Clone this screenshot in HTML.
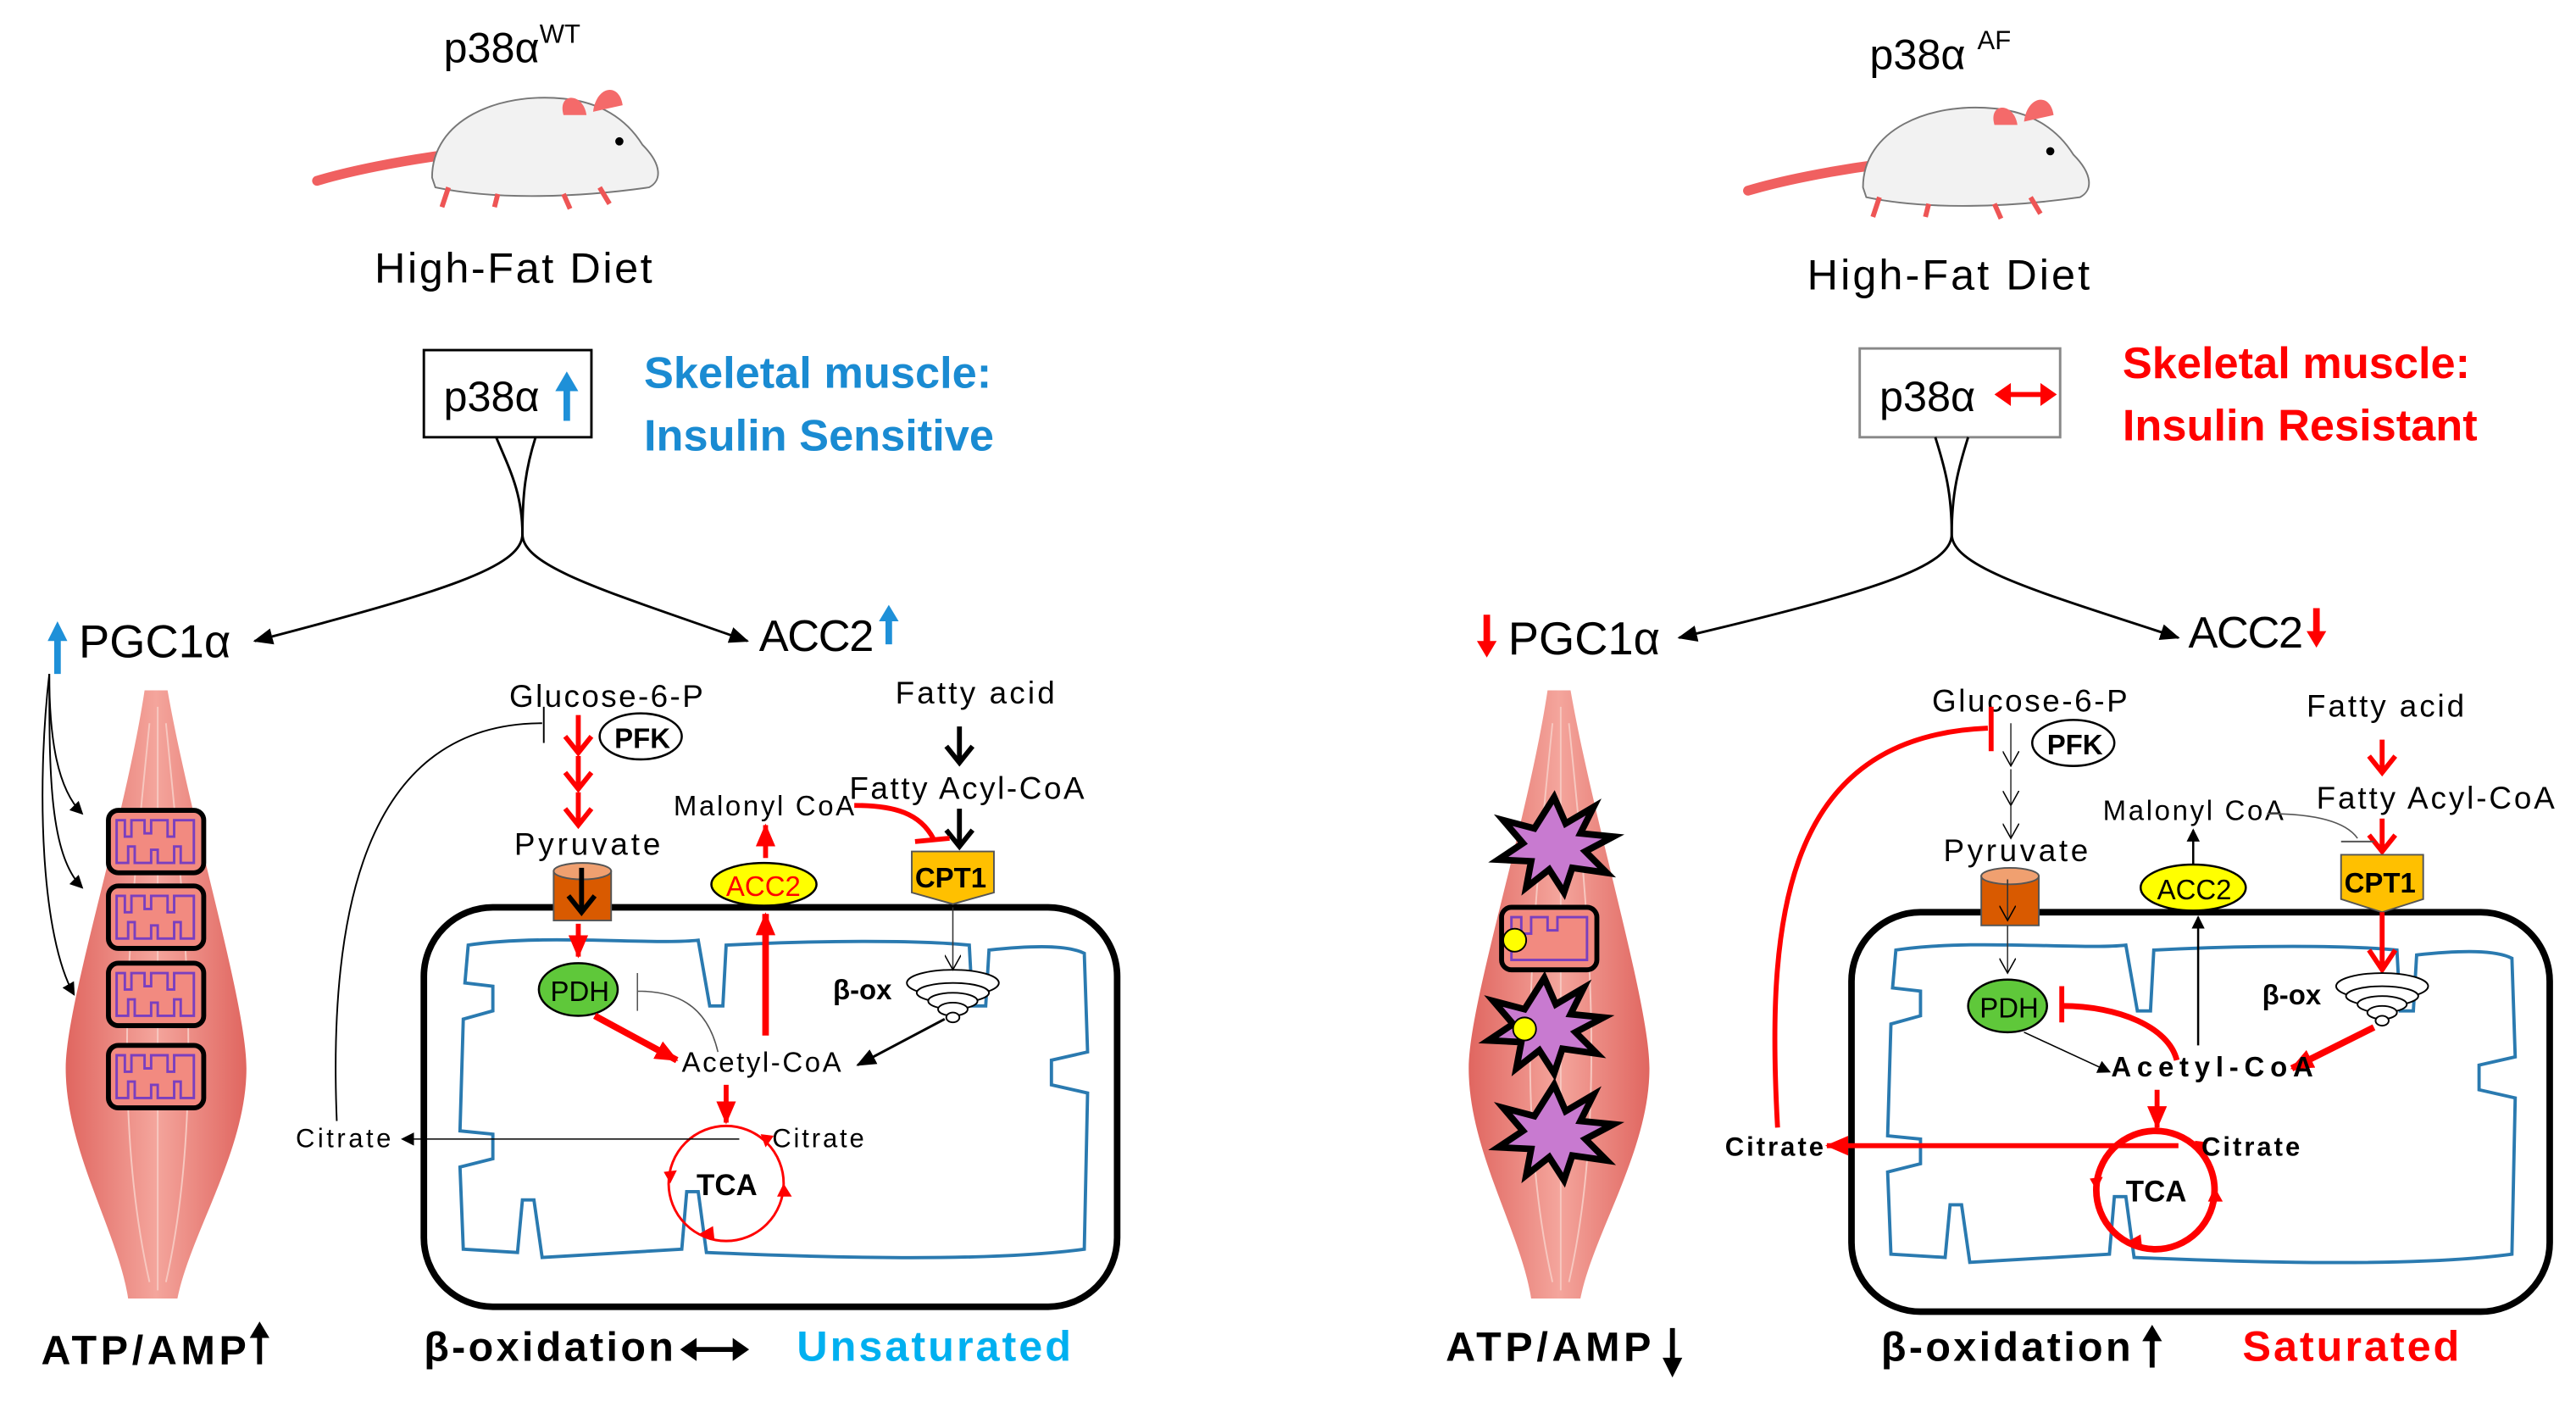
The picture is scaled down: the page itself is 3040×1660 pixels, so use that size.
<!DOCTYPE html>
<html><head><meta charset="utf-8"><style>
html,body{margin:0;padding:0;background:#fff;width:3040px;height:1660px;overflow:hidden}
svg{display:block}
text{font-family:"Liberation Sans Narrow","Liberation Sans",sans-serif}
</style></head><body>
<svg width="3040" height="1660" viewBox="0 0 1568 856" preserveAspectRatio="none" xmlns="http://www.w3.org/2000/svg">
<defs>
<marker id="ab" markerWidth="8" markerHeight="8" refX="7" refY="4" orient="auto" markerUnits="userSpaceOnUse"><path d="M0,0 L8,4 L0,8 Z" fill="#000"/></marker>
<marker id="abs" markerWidth="12" markerHeight="10" refX="11" refY="5" orient="auto" markerUnits="userSpaceOnUse"><path d="M0,0 L12,5 L0,10 Z" fill="#000"/></marker>
<marker id="ar" markerWidth="14" markerHeight="12" refX="13" refY="6" orient="auto" markerUnits="userSpaceOnUse"><path d="M0,0 L14,6 L0,12 Z" fill="#f00"/></marker>
<marker id="ao" markerWidth="10" markerHeight="10" refX="9" refY="5" orient="auto" markerUnits="userSpaceOnUse"><path d="M0,0 L9,5 L0,10" fill="none" stroke="#000" stroke-width="0.8"/></marker>
<linearGradient id="mg" x1="0" x2="1"><stop offset="0" stop-color="#e06660"/><stop offset="0.5" stop-color="#f4a59c"/><stop offset="1" stop-color="#e06660"/></linearGradient>
<g id="mouse">
<path d="M0,62 C20,56 50,50 80,46" stroke="#f06060" stroke-width="6" fill="none" stroke-linecap="round"/>
<path d="M70,60 C70,25 110,8 150,12 C172,14 188,24 198,40 C210,52 210,62 202,66 C160,72 110,74 72,66 Z" fill="#f2f2f2" stroke="#777" stroke-width="1"/>
<path d="M168,20 C170,4 184,2 186,16 Z" fill="#f46a6a"/>
<path d="M150,22 C146,8 162,8 164,22 Z" fill="#f46a6a"/>
<circle cx="184" cy="38" r="2.5" fill="#000"/>
<path d="M80,66 l-4,12 M110,70 l-2,8 M150,70 l4,9 M172,66 l6,10" stroke="#e55" stroke-width="3"/>
</g>
<path id="memb" d="M285,575 C330,568 400,575 425,572 L432,612 L440,612 L442,575 C500,572 560,572 590,575 L592,612 L600,612 L602,578 C630,575 650,575 660,580 L662,640 L640,645 L640,660 L662,665 L660,760 C600,768 500,765 430,762 L425,725 L418,725 L415,760 L330,765 L325,730 L318,730 L315,762 L282,760 L280,710 L300,705 L300,690 L280,688 L282,620 L300,615 L300,600 L283,598 Z" fill="none" stroke="#2a7ab0" stroke-width="2"/>
<g id="funnel" fill="#fff" stroke="#000" stroke-width="1">
<ellipse cx="0" cy="0" rx="28" ry="8"/><ellipse cx="0" cy="6" rx="22" ry="6"/><ellipse cx="0" cy="11" rx="15" ry="5"/><ellipse cx="0" cy="16" rx="9" ry="4"/><ellipse cx="0" cy="21" rx="4" ry="3"/>
</g>
<g id="mus">
<path d="M52,0 C40,80 4,190 4,230 C4,280 36,330 42,370 L72,370 C80,330 114,280 114,230 C114,190 80,80 66,0 Z" fill="url(#mg)"/>
<path d="M55,20 C45,120 30,250 55,360 M65,20 C75,120 90,250 65,360 M60,10 L60,365" stroke="#f7c8c0" stroke-width="1" fill="none"/>
</g>
<g id="mito"><rect x="0" y="0" width="58" height="38" rx="6" fill="#f28a80" stroke="#000" stroke-width="3"/><path d="M5,19 L5,6 L10,6 L10,16 L14,16 L14,6 L22,6 L22,14 L26,14 L26,6 L36,6 L36,16 L40,16 L40,6 L52,6 L52,32 L44,32 L44,22 L40,22 L40,32 L30,32 L30,24 L26,24 L26,32 L16,32 L16,22 L12,22 L12,32 L5,32 Z" fill="none" stroke="#7a3fbf" stroke-width="1.5"/></g>
<path id="star" d="M0,-30 L7,-14 L24,-24 L16,-8 L36,-6 L19,3 L32,16 L11,13 L6,28 L-3,14 L-17,25 L-14,9 L-34,8 L-19,-2 L-31,-16 L-12,-11 Z" fill="#c87ad0" stroke="#000" stroke-width="4"/>
</defs>

<!-- ===== LEFT ===== -->
<text x="270" y="38" font-size="26">p38α<tspan font-size="16" dy="-12">WT</tspan></text>
<use href="#mouse" x="193" y="48"/>
<text x="228" y="172" font-size="26" textLength="169">High-Fat Diet</text>
<rect x="258" y="213" width="102" height="53" fill="#fff" stroke="#000" stroke-width="1.5"/>
<text x="270" y="250" font-size="26">p38α</text>
<path d="M345,256 L345,236" stroke="#1e90d8" stroke-width="4"/><path d="M338,238 L345,226 L352,238Z" fill="#1e90d8"/>
<text x="392" y="236" font-size="27" font-weight="bold" fill="#1a8bd2">Skeletal muscle:</text>
<text x="392" y="274" font-size="27" font-weight="bold" fill="#1a8bd2">Insulin Sensitive</text>
<path d="M302,266 C310,285 318,300 318,325 C318,345 270,360 155,390" fill="none" stroke="#000" stroke-width="1.5" marker-end="url(#abs)"/>
<path d="M326,266 C320,285 318,300 318,325 C318,345 370,360 455,390" fill="none" stroke="#000" stroke-width="1.5" marker-end="url(#abs)"/>
<path d="M35,410 L35,388" stroke="#1e90d8" stroke-width="4"/><path d="M29,390 L35,378 L41,390Z" fill="#1e90d8"/>
<text x="48" y="400" font-size="28">PGC1α</text>
<text x="462" y="396" font-size="27" textLength="70">ACC2</text>
<path d="M541,392 L541,376" stroke="#1e90d8" stroke-width="4"/><path d="M535,378 L541,368 L547,378Z" fill="#1e90d8"/>
<use href="#mus" x="36" y="420"/>
<use href="#mito" x="66" y="493"/><use href="#mito" x="66" y="539"/><use href="#mito" x="66" y="586"/><use href="#mito" x="66" y="636"/>
<path d="M30,410 C30,450 35,480 50,495" fill="none" stroke="#000" stroke-width="1" marker-end="url(#ab)"/>
<path d="M30,410 C30,470 30,520 50,540" fill="none" stroke="#000" stroke-width="1" marker-end="url(#ab)"/>
<path d="M30,410 C22,480 25,570 45,605" fill="none" stroke="#000" stroke-width="1" marker-end="url(#ab)"/>
<text x="25" y="830" font-size="25" font-weight="bold" textLength="125">ATP/AMP</text>
<path d="M158,830 L158,812" stroke="#000" stroke-width="3"/><path d="M152,814 L158,804 L164,814Z"/>

<text x="310" y="430" font-size="19" textLength="118">Glucose-6-P</text>
<ellipse cx="390" cy="448" rx="25" ry="14" fill="#fff" stroke="#000" stroke-width="1.3"/>
<text x="374" y="455" font-size="17" font-weight="bold">PFK</text>
<path d="M352,435 L352,458 M352,460 L352,480 M352,482 L352,502" stroke="#f00" stroke-width="3"/>
<path d="M344,448 L352,458 L360,448 M344,470 L352,480 L360,470 M344,492 L352,502 L360,492" stroke="#f00" stroke-width="3" fill="none"/>
<text x="313" y="520" font-size="19" textLength="89">Pyruvate</text>
<text x="410" y="496" font-size="17" textLength="110">Malonyl CoA</text>
<text x="545" y="428" font-size="19" textLength="97">Fatty acid</text>
<text x="517" y="486" font-size="19" textLength="143">Fatty Acyl-CoA</text>
<path d="M584,442 L584,462" stroke="#000" stroke-width="3"/><path d="M576,454 L584,464 L592,454" stroke="#000" stroke-width="3" fill="none"/>
<path d="M584,492 L584,513" stroke="#000" stroke-width="3"/><path d="M576,505 L584,515 L592,505" stroke="#000" stroke-width="3" fill="none"/>
<path d="M520,490 C545,490 560,495 568,510" stroke="#f00" stroke-width="3" fill="none"/><path d="M557,512 L578,510" stroke="#f00" stroke-width="3"/>
<rect x="258" y="552" width="422" height="243" rx="42" fill="none" stroke="#000" stroke-width="4"/>
<use href="#memb"/>
<rect x="337" y="530" width="35" height="30" fill="#d95a00" stroke="#555"/><ellipse cx="354.5" cy="530" rx="17.5" ry="5" fill="#f0a070" stroke="#555"/>
<path d="M354,528 L354,553" stroke="#000" stroke-width="3"/><path d="M346,545 L354,555 L362,545" stroke="#000" stroke-width="3" fill="none"/>
<path d="M352,562 L352,582" stroke="#f00" stroke-width="3" marker-end="url(#ar)"/>
<ellipse cx="465" cy="538" rx="32" ry="13" fill="#ffff00" stroke="#000" stroke-width="1.3"/>
<text x="442" y="545" font-size="17" fill="#f00">ACC2</text>
<path d="M466,522 L466,502" stroke="#f00" stroke-width="3" marker-end="url(#ar)"/>
<path d="M466,630 L466,556" stroke="#f00" stroke-width="4" marker-end="url(#ar)"/>
<path d="M555,518 L605,518 L605,543 L580,550 L555,543 Z" fill="#ffc000" stroke="#555"/>
<text x="557" y="540" font-size="17" font-weight="bold">CPT1</text>
<ellipse cx="352" cy="602" rx="24" ry="16" fill="#5fc83a" stroke="#000" stroke-width="1.3"/>
<text x="335" y="609" font-size="17">PDH</text>
<path d="M388,592 L388,615 M388,603 C410,603 430,610 437,640" stroke="#555" stroke-width="0.8" fill="none"/>
<text x="507" y="608" font-size="17" font-weight="bold">β-ox</text>
<use href="#funnel" x="580" y="598"/>
<path d="M580,552 L580,590" stroke="#333" stroke-width="0.8" marker-end="url(#ao)"/>
<path d="M575,620 L522,648" stroke="#000" stroke-width="1.5" marker-end="url(#abs)"/>
<path d="M362,618 L412,645" stroke="#f00" stroke-width="4" marker-end="url(#ar)"/>
<text x="415" y="652" font-size="17" textLength="97">Acetyl-CoA</text>
<path d="M442,660 L442,683" stroke="#f00" stroke-width="3" marker-end="url(#ar)"/>
<circle cx="442" cy="720" r="35" fill="none" stroke="#f00" stroke-width="1.5"/>
<path d="M463,690 l3,8 l5,-7z M477,720 l-4,8 l9,0z M425,751 l10,4 l-1,-9z M408,720 l4,-8 l-8,1z" fill="#f00"/>
<text x="424" y="727" font-size="18" font-weight="bold">TCA</text>
<text x="470" y="698" font-size="16" textLength="56">Citrate</text>
<text x="180" y="698" font-size="16" textLength="58">Citrate</text>
<path d="M450,693 L245,693" stroke="#000" stroke-width="0.8" marker-end="url(#ab)"/>
<path d="M205,682 C200,560 220,440 330,440" stroke="#000" stroke-width="1" fill="none"/><path d="M331,430 L331,452" stroke="#000" stroke-width="1"/>
<text x="258" y="828" font-size="25" font-weight="bold" textLength="152">β-oxidation</text>
<path d="M420,821 L450,821" stroke="#000" stroke-width="3"/><path d="M424,814 L414,821 L424,828Z M446,814 L456,821 L446,828Z"/>
<text x="485" y="828" font-size="26" font-weight="bold" fill="#00b0f0" textLength="167">Unsaturated</text>

<!-- ===== RIGHT ===== -->
<text x="1138" y="42" font-size="26">p38α <tspan font-size="16" dy="-12">AF</tspan></text>
<use href="#mouse" x="1064" y="54"/>
<text x="1100" y="176" font-size="26" textLength="172">High-Fat Diet</text>
<rect x="1132" y="212" width="122" height="54" fill="#fff" stroke="#888" stroke-width="1.5"/>
<text x="1144" y="250" font-size="26">p38α</text>
<path d="M1222,240 L1244,240" stroke="#f00" stroke-width="3"/><path d="M1224,233 L1214,240 L1224,247Z M1242,233 L1252,240 L1242,247Z" fill="#f00"/>
<text x="1292" y="230" font-size="27" font-weight="bold" fill="#f00">Skeletal muscle:</text>
<text x="1292" y="268" font-size="27" font-weight="bold" fill="#f00">Insulin Resistant</text>
<path d="M1178,266 C1184,285 1188,300 1188,325 C1188,345 1140,360 1022,388" fill="none" stroke="#000" stroke-width="1.5" marker-end="url(#abs)"/>
<path d="M1198,266 C1192,285 1188,300 1188,325 C1188,345 1240,360 1326,388" fill="none" stroke="#000" stroke-width="1.5" marker-end="url(#abs)"/>
<path d="M905,374 L905,392" stroke="#f00" stroke-width="4"/><path d="M899,390 L905,400 L911,390Z" fill="#f00"/>
<text x="918" y="398" font-size="28">PGC1α</text>
<text x="1332" y="394" font-size="27" textLength="70">ACC2</text>
<path d="M1410,370 L1410,386" stroke="#f00" stroke-width="4"/><path d="M1404,384 L1410,394 L1416,384Z" fill="#f00"/>
<use href="#mus" x="890" y="420"/>
<use href="#star" x="946" y="515"/>
<rect x="914" y="552" width="58" height="38" rx="6" fill="#f28a80" stroke="#000" stroke-width="3"/>
<path d="M920,571 L920,558 L926,558 L926,568 L932,568 L932,558 L942,558 L942,566 L948,566 L948,558 L966,558 L966,584 L920,584 Z" fill="none" stroke="#7a3fbf" stroke-width="1.5"/>
<circle cx="922" cy="572" r="7" fill="#ffff00" stroke="#000"/>
<use href="#star" x="940" y="625"/>
<circle cx="928" cy="626" r="7" fill="#ffff00" stroke="#000"/>
<use href="#star" x="946" y="690"/>
<text x="880" y="828" font-size="25" font-weight="bold" textLength="125">ATP/AMP</text>
<path d="M1018,808 L1018,828" stroke="#000" stroke-width="3"/><path d="M1012,826 L1018,838 L1024,826Z"/>

<text x="1176" y="433" font-size="19" textLength="119">Glucose-6-P</text>
<ellipse cx="1262" cy="452" rx="25" ry="14" fill="#fff" stroke="#000" stroke-width="1.3"/>
<text x="1246" y="459" font-size="17" font-weight="bold">PFK</text>
<path d="M1224,440 L1224,466" stroke="#333" stroke-width="0.8" marker-end="url(#ao)"/>
<path d="M1224,468 L1224,490" stroke="#333" stroke-width="0.8" marker-end="url(#ao)"/>
<path d="M1224,490 L1224,510" stroke="#333" stroke-width="0.8" marker-end="url(#ao)"/>
<text x="1183" y="524" font-size="19" textLength="88">Pyruvate</text>
<text x="1280" y="499" font-size="17" textLength="110">Malonyl CoA</text>
<text x="1404" y="436" font-size="19" textLength="96">Fatty acid</text>
<text x="1410" y="492" font-size="19" textLength="145">Fatty Acyl-CoA</text>
<path d="M1450,450 L1450,468" stroke="#f00" stroke-width="3"/><path d="M1442,460 L1450,470 L1458,460" stroke="#f00" stroke-width="3" fill="none"/>
<path d="M1450,498 L1450,516" stroke="#f00" stroke-width="3"/><path d="M1442,508 L1450,518 L1458,508" stroke="#f00" stroke-width="3" fill="none"/>
<path d="M1380,495 C1410,495 1428,500 1435,510" stroke="#555" stroke-width="0.8" fill="none"/><path d="M1425,512 L1445,512" stroke="#555" stroke-width="1"/>
<path d="M1335,527 L1335,505" stroke="#000" stroke-width="1.3" marker-end="url(#ab)"/>
<rect x="1127" y="555" width="425" height="243" rx="42" fill="none" stroke="#000" stroke-width="4"/>
<use href="#memb" x="869" y="3"/>
<rect x="1206" y="533" width="35" height="30" fill="#d95a00" stroke="#555"/><ellipse cx="1223.5" cy="533" rx="17.5" ry="5" fill="#f0a070" stroke="#555"/>
<path d="M1222,535 L1222,560" stroke="#333" stroke-width="0.8" marker-end="url(#ao)"/>
<path d="M1222,563 L1222,592" stroke="#333" stroke-width="0.8" marker-end="url(#ao)"/>
<ellipse cx="1335" cy="540" rx="32" ry="14" fill="#ffff00" stroke="#000" stroke-width="1.3"/>
<text x="1313" y="547" font-size="17">ACC2</text>
<path d="M1338,636 L1338,558" stroke="#000" stroke-width="1.3" marker-end="url(#ab)"/>
<path d="M1425,520 L1475,520 L1475,547 L1450,555 L1425,547 Z" fill="#ffc000" stroke="#555"/>
<text x="1427" y="543" font-size="17" font-weight="bold">CPT1</text>
<path d="M1450,555 L1450,588" stroke="#f00" stroke-width="3"/><path d="M1442,578 L1450,590 L1458,578" stroke="#f00" stroke-width="3" fill="none"/>
<ellipse cx="1222" cy="612" rx="24" ry="16" fill="#5fc83a" stroke="#000" stroke-width="1.3"/>
<text x="1205" y="619" font-size="17">PDH</text>
<path d="M1255,600 L1255,622" stroke="#f00" stroke-width="3"/>
<path d="M1255,612 C1290,612 1320,625 1325,645" stroke="#f00" stroke-width="3.5" fill="none"/>
<text x="1377" y="611" font-size="17" font-weight="bold">β-ox</text>
<use href="#funnel" x="1450" y="600"/>
<path d="M1445,625 L1395,650" stroke="#f00" stroke-width="4" marker-end="url(#ar)"/>
<path d="M1232,628 L1284,652" stroke="#000" stroke-width="0.8" marker-end="url(#ab)"/>
<text x="1285" y="655" font-size="17" font-weight="bold" textLength="123">Acetyl-CoA</text>
<path d="M1313,663 L1313,686" stroke="#f00" stroke-width="3" marker-end="url(#ar)"/>
<circle cx="1312" cy="724" r="36" fill="none" stroke="#f00" stroke-width="4"/>
<path d="M1336,694 l3,8 l5,-7z M1348,722 l-4,9 l9,0z M1294,756 l10,4 l-1,-9z M1276,724 l4,-8 l-8,1z" fill="#f00"/>
<text x="1294" y="731" font-size="18" font-weight="bold">TCA</text>
<text x="1340" y="703" font-size="16" font-weight="bold" textLength="60">Citrate</text>
<text x="1050" y="703" font-size="16" font-weight="bold" textLength="60">Citrate</text>
<path d="M1326,697 L1112,697" stroke="#f00" stroke-width="3" marker-end="url(#ar)"/>
<path d="M1082,686 C1075,560 1085,448 1210,443" stroke="#f00" stroke-width="3" fill="none"/><path d="M1212,430 L1212,457" stroke="#f00" stroke-width="3"/>
<text x="1145" y="828" font-size="25" font-weight="bold" textLength="152">β-oxidation</text>
<path d="M1310,832 L1310,814" stroke="#000" stroke-width="3"/><path d="M1304,816 L1310,806 L1316,816Z"/>
<text x="1365" y="828" font-size="26" font-weight="bold" fill="#f00" textLength="132">Saturated</text>
</svg>
</body></html>
